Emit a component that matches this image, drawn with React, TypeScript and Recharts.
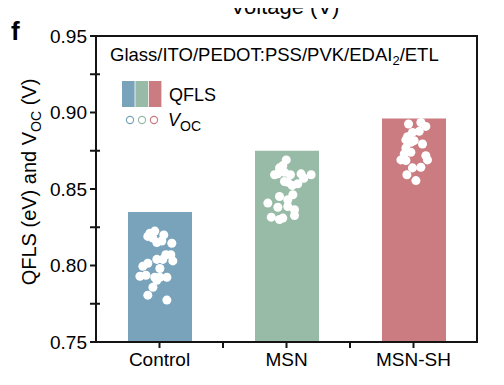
import { ComposedChart, Bar, Scatter, XAxis, YAxis, Cell } from "recharts";

const groups = ["Control", "MSN", "MSN-SH"];
const qfls = [0.835, 0.875, 0.896];
const colors = ["#79a3bb", "#97bba6", "#cb7c81"];
const yMajor = [0.75, 0.8, 0.85, 0.9, 0.95];
const yTicks = [0.75, 0.775, 0.8, 0.825, 0.85, 0.875, 0.9, 0.925, 0.95];
const xTicks = [0.5, 1, 1.5, 2, 2.5];

// Voc of each device
const controlVoc = [0.8225, 0.821, 0.819, 0.818, 0.82, 0.815, 0.816, 0.8145, 0.807, 0.807, 0.804, 0.804, 0.803,
  0.8015, 0.7995, 0.798, 0.793, 0.7936, 0.7923, 0.7923, 0.7923, 0.7904, 0.7858, 0.7806, 0.7774];
const controlJitter = [-0.037, -0.076, -0.092, -0.052, 0.034, -0.021, 0.018, 0.097, 0.05, 0.089, -0.021, 0.026, 0.105,
  -0.092, -0.131, 0.003, -0.154, -0.107, -0.037, 0.003, 0.058, -0.021, -0.052, -0.092, 0.058];

const msnVoc = [0.869, 0.8653, 0.8638, 0.8609, 0.8593, 0.8599, 0.8593, 0.8599, 0.8593, 0.857, 0.8544, 0.8549, 0.8534,
  0.8523, 0.8462, 0.8451, 0.843, 0.8408, 0.8381, 0.8386, 0.8364, 0.8316, 0.8301, 0.831, 0.8327];
const msnJitter = [-0.002, -0.029, -0.055, -0.016, -0.094, -0.068, 0.031, 0.115, 0.194, 0.136, 0.01, -0.016, 0.089,
  0.045, 0.05, -0.055, 0.01, -0.147, -0.068, 0.01, 0.063, -0.12, -0.055, -0.029, 0.063];

const shVoc = [0.8925, 0.8935, 0.8909, 0.8877, 0.887, 0.8842, 0.8821, 0.8805, 0.8816, 0.8794, 0.8768, 0.874, 0.8729,
  0.8718, 0.869, 0.869, 0.8686, 0.8638, 0.8642, 0.8593, 0.8555];
const shJitter = [-0.039, 0.058, 0.097, 0.045, -0.008, -0.047, -0.06, -0.021, 0.005, 0.071, -0.06, -0.021, -0.073,
  0.097, 0.11, -0.099, -0.06, -0.008, 0.058, -0.052, 0.019];

const barData = groups.map((name, i) => ({ name, qfls: qfls[i] }));
const allDots = [
  ...controlVoc.map((v, i) => ({ x: 0.5 + controlJitter[i], v })),
  ...msnVoc.map((v, i) => ({ x: 1.5 + msnJitter[i], v })),
  ...shVoc.map((v, i) => ({ x: 2.5 + shJitter[i], v })),
];

const font = "'Liberation Sans', Arial, sans-serif";
const ink = "#141414";

// category names sit on the half ticks, whole ticks are bare marks
function XTick(props: any) {
  const { x, y, payload } = props;
  if (payload.value % 1 !== 0.5) return <g />;
  return (
    <text x={x} y={y} dy="0.71em" textAnchor="middle" fontSize={19} fontFamily={font} fill="#000">
      {groups[Math.floor(payload.value)]}
    </text>
  );
}

// majors: label (tick line from the axis); minors: short inward mark
function YTick(props: any) {
  const { x, y, payload } = props;
  const ax = x + 9;
  const major = yMajor.some((m) => Math.abs(m - payload.value) < 1e-6);
  if (!major) return <rect x={ax} y={y - 1} width={4} height={2} fill={ink} />;
  return (
    <text x={x} y={y} dy="0.35em" textAnchor="end" fontSize={19} fontFamily={font} fill="#000">
      {payload.value.toFixed(2)}
    </text>
  );
}

export default function App() {
  return (
    <div style={{ position: "relative", width: 504, height: 385, margin: -8, fontFamily: font, background: "#fff" }}>
      <ComposedChart width={504} height={385} data={barData} margin={{ top: 36, right: 27, left: 36, bottom: 13 }}>
        <XAxis xAxisId="cat" dataKey="name" hide height={0} />
        <XAxis
          xAxisId="num"
          type="number"
          dataKey="x"
          domain={[0, 3]}
          ticks={xTicks}
          interval={0}
          tickSize={6}
          tickMargin={5}
          height={30}
          stroke={ink}
          strokeWidth={2}
          tick={XTick}
        />
        <YAxis
          domain={[0.75, 0.95]}
          ticks={yTicks}
          interval={0}
          width={60}
          tickSize={6}
          tickMargin={3}
          stroke={ink}
          strokeWidth={2}
          tick={YTick}
        />
        <Bar xAxisId="cat" dataKey="qfls" barSize={64} isAnimationActive={false}>
          {barData.map((d, i) => (
            <Cell key={d.name} fill={colors[i]} />
          ))}
        </Bar>
        <Scatter xAxisId="num" data={allDots} dataKey="v" isAnimationActive={false} fill="#fff" />
      </ComposedChart>
      <svg width={504} height={385} style={{ position: "absolute", left: 0, top: 0, pointerEvents: "none" }} fontFamily={font}>
        <rect x={95} y={35} width={383} height={2} fill={ink} />
        <rect x={476} y={35} width={2} height={308} fill={ink} />
        <text x={285} y={14} fontSize={22} textAnchor="middle" fill="#000">Voltage (V)</text>
        <text x={11} y={40} fontSize={26} fontWeight="bold" fill="#000">f</text>
        <text transform="rotate(-90 36 182)" x={36} y={182} fontSize={20} textAnchor="middle" fill="#000">
          QFLS (eV) and V<tspan fontSize={14} dy={5}>OC</tspan><tspan dy={-5}> (V)</tspan>
        </text>
        <text x={110} y={61} fontSize={18.5} fill="#000">
          Glass/ITO/PEDOT:PSS/PVK/EDAI<tspan fontSize={13} dy={4}>2</tspan><tspan dy={-4}>/ETL</tspan>
        </text>
        {colors.map((c, i) => (
          <rect key={c} x={122 + i * 13.4} y={81} width={12.6} height={26} fill={c} />
        ))}
        <text x={169} y={101} fontSize={18} fill="#000">QFLS</text>
        {colors.map((c, i) => (
          <circle key={c + "o"} cx={130 + i * 12} cy={120} r={3.6} fill="#fff" stroke={c} strokeWidth={1.2} />
        ))}
        <text x={168} y={126} fontSize={18} fontStyle="italic" fill="#000">
          V<tspan fontSize={14} fontStyle="normal" dy={5}>OC</tspan>
        </text>
      </svg>
    </div>
  );
}
